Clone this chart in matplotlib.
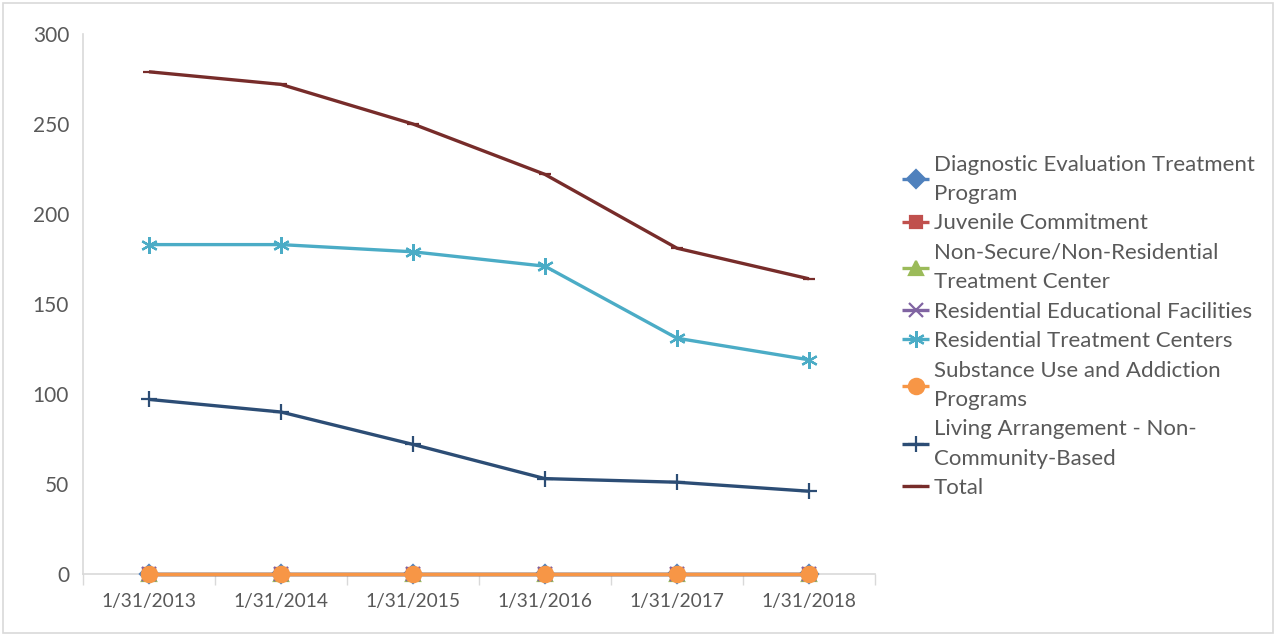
import matplotlib.pyplot as plt
from matplotlib.patches import Rectangle

plt.rcParams['font.family'] = ['Lato', 'DejaVu Sans']

dates = ['1/31/2013', '1/31/2014', '1/31/2015', '1/31/2016', '1/31/2017', '1/31/2018']

diagnostic = [0, 0, 0, 0, 0, 0]
juvenile = [0, 0, 0, 0, 0, 0]
non_secure = [0, 0, 0, 0, 0, 0]
res_educational = [0, 0, 0, 0, 0, 0]
res_treatment = [183, 183, 179, 171, 131, 119]
substance = [0, 0, 0, 0, 0, 0]
living_arr = [97, 90, 72, 53, 51, 46]
total = [279, 272, 250, 222, 181, 164]

series = [
    ('Diagnostic Evaluation Treatment\nProgram', diagnostic, '#4F81BD', 'D', 9),
    ('Juvenile Commitment', juvenile, '#C0504D', 's', 9),
    ('Non-Secure/Non-Residential\nTreatment Center', non_secure, '#9BBB59', '^', 10),
    ('Residential Educational Facilities', res_educational, '#8064A2', 'x', 10),
    ('Residential Treatment Centers', res_treatment, '#4BACC6', (6, 2, 0), 12),
    ('Substance Use and Addiction\nPrograms', substance, '#F79646', 'o', 11),
    ('Living Arrangement - Non-\nCommunity-Based', living_arr, '#2C4D75', '+', 12),
    ('Total', total, '#772C2A', '_', 9),
]

fig = plt.figure(figsize=(12.76, 6.34), dpi=100)
ax = fig.add_axes([0.065, 0.0946, 0.6207, 0.8518])

x = list(range(len(dates)))
for label, vals, color, marker, ms in series:
    ax.plot(x, vals, color=color, linewidth=2.4, marker=marker, markersize=ms,
            markeredgewidth=1.6, markeredgecolor=color, markerfacecolor=color,
            label=label, solid_capstyle='butt', clip_on=False, zorder=3)

ax.set_xlim(-0.5, len(dates) - 0.5)
ax.set_ylim(0, 300)
ax.set_yticks([0, 50, 100, 150, 200, 250, 300])
ax.set_xticks(x)
ax.set_xticklabels(dates)
ax.set_xticks([i - 0.5 for i in range(len(dates) + 1)], minor=True)
ax.tick_params(axis='x', which='major', length=0, pad=14, labelsize=13.8, colors='#595959')
ax.tick_params(axis='x', which='minor', length=8, width=1, color='#D9D9D9')
ax.tick_params(axis='y', length=0, pad=10, labelsize=15, colors='#595959')

for side in ['top', 'right']:
    ax.spines[side].set_visible(False)
for side in ['left', 'bottom']:
    ax.spines[side].set_color('#D9D9D9')
    ax.spines[side].set_linewidth(1.2)
    ax.spines[side].set_zorder(1)
ax.spines['left'].set_bounds(0, 300)

leg = fig.legend(loc='upper left', bbox_to_anchor=(0.6997, 0.770), frameon=False,
                 fontsize=16, labelcolor='#595959', handlelength=1.25,
                 handletextpad=0.2, labelspacing=0.43, borderaxespad=0)
for t in leg.get_texts():
    t.set_linespacing(1.57)

fig.patches.append(Rectangle((0.002, 0.002), 0.996, 0.994, transform=fig.transFigure,
                             fill=False, edgecolor='#D9D9D9', linewidth=1.2))

fig.savefig('out.png', dpi=100)
